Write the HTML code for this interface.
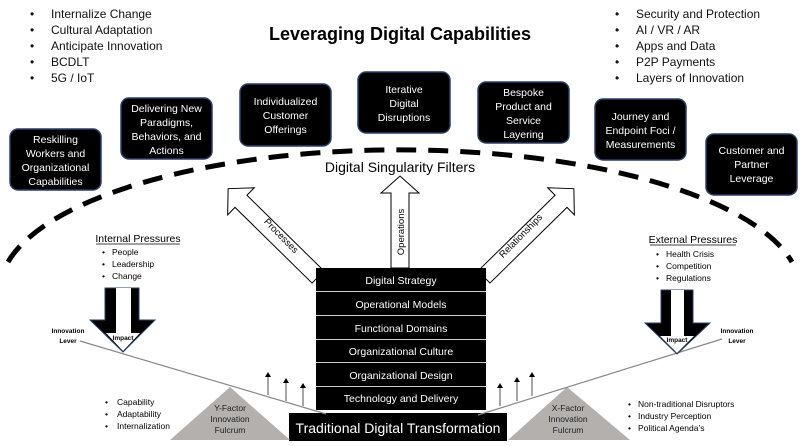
<!DOCTYPE html>
<html><head><meta charset="utf-8"><style>
html,body{margin:0;padding:0;background:#fff;}
svg{display:block;font-family:"Liberation Sans",sans-serif;}
</style></head><body>
<svg width="800" height="446" viewBox="0 0 800 446" xmlns="http://www.w3.org/2000/svg">
<rect width="800" height="446" fill="#fff"/>
<g font-size="12" fill="#111">
<text x="30" y="18">•</text><text x="51" y="18">Internalize Change</text>
<text x="30" y="34">•</text><text x="51" y="34">Cultural Adaptation</text>
<text x="30" y="50">•</text><text x="51" y="50">Anticipate Innovation</text>
<text x="30" y="66">•</text><text x="51" y="66">BCDLT</text>
<text x="30" y="82">•</text><text x="51" y="82">5G / IoT</text>
<text x="615" y="18">•</text><text x="636" y="18">Security and Protection</text>
<text x="615" y="34">•</text><text x="636" y="34">AI / VR / AR</text>
<text x="615" y="50">•</text><text x="636" y="50">Apps and Data</text>
<text x="615" y="66">•</text><text x="636" y="66">P2P Payments</text>
<text x="615" y="82">•</text><text x="636" y="82">Layers of Innovation</text>
</g>
<text x="400" y="40" font-size="18" font-weight="bold" text-anchor="middle" fill="#000">Leveraging Digital Capabilities</text>
<path d="M8 262 A400 140 0 0 1 792 262" fill="none" stroke="#000" stroke-width="5" stroke-dasharray="20 12"/>
<g fill="#000" stroke="#2a3f6a" stroke-width="1.5">
<rect x="10" y="129" width="91" height="61" rx="8"/>
<rect x="121" y="98" width="91" height="61" rx="8"/>
<rect x="240" y="84" width="91" height="62" rx="8"/>
<rect x="358" y="72" width="92" height="61" rx="8"/>
<rect x="478" y="82" width="91" height="61" rx="8"/>
<rect x="595" y="99" width="91" height="61" rx="8"/>
<rect x="706" y="134" width="91" height="61" rx="8"/>
</g>
<g font-size="10.5" fill="#fff" text-anchor="middle">
<text x="55.5" y="143">Reskilling</text><text x="55.5" y="157">Workers and</text><text x="55.5" y="171">Organizational</text><text x="55.5" y="185">Capabilities</text>
<text x="166.5" y="112">Delivering New</text><text x="166.5" y="126">Paradigms,</text><text x="166.5" y="140">Behaviors, and</text><text x="166.5" y="154">Actions</text>
<text x="285.5" y="105">Individualized</text><text x="285.5" y="119">Customer</text><text x="285.5" y="133">Offerings</text>
<text x="404" y="93">Iterative</text><text x="404" y="107">Digital</text><text x="404" y="121">Disruptions</text>
<text x="523.5" y="96">Bespoke</text><text x="523.5" y="110">Product and</text><text x="523.5" y="124">Service</text><text x="523.5" y="138">Layering</text>
<text x="640.5" y="120">Journey and</text><text x="640.5" y="134">Endpoint Foci /</text><text x="640.5" y="148">Measurements</text>
<text x="751.5" y="154">Customer and</text><text x="751.5" y="168">Partner</text><text x="751.5" y="182">Leverage</text>
</g>
<text x="400" y="172" font-size="14" text-anchor="middle" fill="#000">Digital Singularity Filters</text>
<g fill="#fff" stroke="#000" stroke-width="1">
<polygon points="391,268 391,193 381,193 400,176 419,193 409,193 409,268"/>
<polygon transform="translate(318,277) rotate(-45.5)" points="-8.5,0 -8.5,-108 -19,-108 0,-126 19,-108 8.5,-108 8.5,0"/>
<polygon transform="translate(484,277) rotate(45.5)" points="-8.5,0 -8.5,-108 -19,-108 0,-126 19,-108 8.5,-108 8.5,0"/>
</g>
<text transform="translate(404,232) rotate(-90)" font-size="9.5" text-anchor="middle">Operations</text>
<text transform="translate(279,238) rotate(45.5)" font-size="9.5" text-anchor="middle">Processes</text>
<text transform="translate(523,238) rotate(-45.5)" font-size="9.5" text-anchor="middle">Relationships</text>
<rect x="316" y="268" width="170" height="142" fill="#000"/>
<g stroke="#ccc" stroke-width="1"><line x1="316" y1="291.5" x2="486" y2="291.5"/><line x1="316" y1="315.5" x2="486" y2="315.5"/><line x1="316" y1="339.5" x2="486" y2="339.5"/><line x1="316" y1="362.5" x2="486" y2="362.5"/><line x1="316" y1="386.5" x2="486" y2="386.5"/></g>
<g font-size="10.5" fill="#fff" text-anchor="middle">
<text x="401" y="284">Digital Strategy</text>
<text x="401" y="308">Operational Models</text>
<text x="401" y="332">Functional Domains</text>
<text x="401" y="355">Organizational Culture</text>
<text x="401" y="379">Organizational Design</text>
<text x="401" y="402">Technology and Delivery</text>
</g>
<rect x="289" y="413" width="218" height="28" fill="#000"/>
<text x="398" y="433" font-size="14" fill="#fff" text-anchor="middle">Traditional Digital Transformation</text>
<polygon points="230,387 170,440 290,440" fill="#b3b0ae"/>
<polygon points="567,387 508,440 630,440" fill="#b3b0ae"/>
<g font-size="8.5" fill="#222" text-anchor="middle">
<text x="230" y="411">Y-Factor</text><text x="230" y="422">Innovation</text><text x="230" y="433">Fulcrum</text>
<text x="568" y="411">X-Factor</text><text x="568" y="422">Innovation</text><text x="568" y="433">Fulcrum</text>
</g>
<line x1="80" y1="341" x2="326" y2="414" stroke="#888" stroke-width="1.2"/>
<line x1="478" y1="415" x2="722" y2="339" stroke="#888" stroke-width="1.2"/>
<g font-size="6.5" font-weight="bold" text-anchor="middle" fill="#000">
<text x="68" y="333">Innovation</text><text x="68" y="343">Lever</text>
<text x="737" y="333">Innovation</text><text x="737" y="343">Lever</text>
</g>
<g stroke="#888" stroke-width="1.5">
<line x1="268" y1="395" x2="268" y2="376"/><line x1="286" y1="401" x2="286" y2="382"/><line x1="303" y1="406" x2="303" y2="387"/>
<line x1="500" y1="406" x2="500" y2="387"/><line x1="517" y1="401" x2="517" y2="381"/><line x1="532" y1="396" x2="532" y2="376"/>
</g>
<g fill="#000">
<polygon points="268,372 265,377 271,377"/><polygon points="286,378 283,383 289,383"/><polygon points="303,383 300,388 306,388"/>
<polygon points="500,383 497,388 503,388"/><polygon points="517,377 514,382 520,382"/><polygon points="532,372 529,377 535,377"/>
</g>
<polygon points="105,288 139,288 139,320 155,320 123,352 90,320 105,320" fill="#000" stroke="#2a3f6a"/>
<polygon points="116,288 131,288 131,333 140,333 123,351 106,333 116,333" fill="#fff"/>
<text x="123" y="340" font-size="6.5" font-weight="bold" text-anchor="middle">Impact</text>
<polygon points="661,290 693,290 693,323 710,323 677,354 645,323 661,323" fill="#000" stroke="#2a3f6a"/>
<polygon points="671,290 684,290 684,336 694,336 677,353 660,336 671,336" fill="#fff"/>
<text x="677" y="342" font-size="6.5" font-weight="bold" text-anchor="middle">Impact</text>
<text x="138" y="242" font-size="10.5" text-anchor="middle">Internal Pressures</text>
<line x1="96" y1="244" x2="180" y2="244" stroke="#000" stroke-width="0.8"/>
<g font-size="8.5"><text x="102" y="255">•</text><text x="112" y="255">People</text>
<text x="102" y="267">•</text><text x="112" y="267">Leadership</text>
<text x="102" y="279">•</text><text x="112" y="279">Change</text></g>
<text x="693" y="243" font-size="10.5" text-anchor="middle">External Pressures</text>
<line x1="650" y1="245" x2="736" y2="245" stroke="#000" stroke-width="0.8"/>
<g font-size="8.5"><text x="656" y="257">•</text><text x="666" y="257">Health Crisis</text>
<text x="656" y="269">•</text><text x="666" y="269">Competition</text>
<text x="656" y="281">•</text><text x="666" y="281">Regulations</text></g>
<g font-size="8.5">
<text x="105" y="405">•</text><text x="117" y="405">Capability</text>
<text x="105" y="417">•</text><text x="117" y="417">Adaptability</text>
<text x="105" y="429">•</text><text x="117" y="429">Internalization</text>
<text x="628" y="407">•</text><text x="638" y="407">Non-traditional Disruptors</text>
<text x="628" y="419">•</text><text x="638" y="419">Industry Perception</text>
<text x="628" y="431">•</text><text x="638" y="431">Political Agenda’s</text>
</g>
</svg>
</body></html>
